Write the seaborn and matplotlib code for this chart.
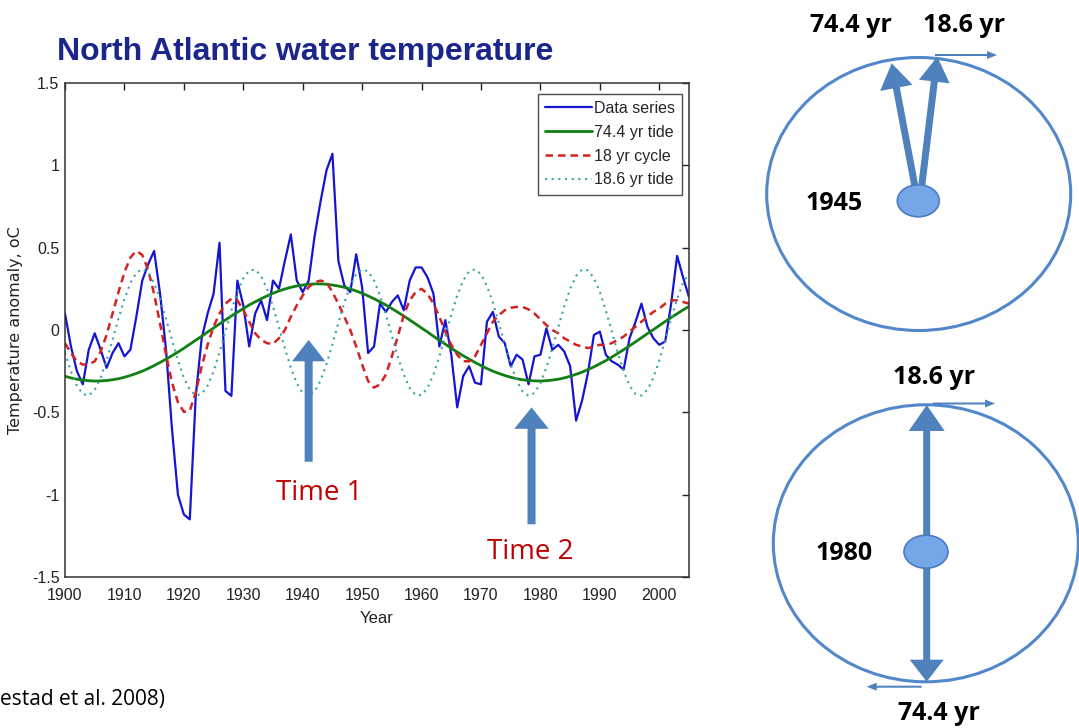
import numpy as np
import matplotlib
matplotlib.use("Agg")
import matplotlib.pyplot as plt
from matplotlib.patches import Ellipse, FancyArrow
import seaborn as sns

# annual values, 1900-2005
years = list(range(1900, 2006))

data_series = [
    0.10, -0.10, -0.25, -0.33, -0.12, -0.02, -0.12, -0.23, -0.14, -0.08,
    -0.16, -0.12, 0.08, 0.30, 0.40, 0.48, 0.22, -0.12, -0.60, -1.00,
    -1.12, -1.15, -0.40, -0.05, 0.10, 0.22, 0.53, -0.37, -0.40, 0.30,
    0.15, -0.10, 0.10, 0.18, 0.06, 0.30, 0.25, 0.42, 0.58, 0.30,
    0.23, 0.30, 0.57, 0.78, 0.97, 1.07, 0.42, 0.27, 0.23, 0.46,
    0.26, -0.14, -0.10, 0.16, 0.11, 0.17, 0.21, 0.12, 0.30, 0.38,
    0.38, 0.32, 0.22, -0.10, 0.06, -0.15, -0.47, -0.28, -0.22, -0.32,
    -0.33, 0.05, 0.11, -0.04, -0.08, -0.22, -0.15, -0.18, -0.33, -0.16,
    -0.15, 0.01, -0.12, -0.09, -0.13, -0.22, -0.55, -0.43, -0.26, -0.03,
    -0.01, -0.15, -0.19, -0.21, -0.24, -0.05, 0.05, 0.16, 0.02, -0.05,
    -0.09, -0.07, 0.16, 0.45, 0.32, 0.20,
]

tide_74 = [
    -0.281, -0.291, -0.299, -0.304, -0.308, -0.310, -0.309, -0.307, -0.302, -0.296,
    -0.287, -0.276, -0.264, -0.250, -0.234, -0.216, -0.197, -0.177, -0.156, -0.134,
    -0.111, -0.086, -0.062, -0.038, -0.012, 0.012, 0.037, 0.061, 0.085, 0.108,
    0.130, 0.152, 0.171, 0.190, 0.207, 0.223, 0.237, 0.249, 0.259, 0.267,
    0.273, 0.278, 0.280, 0.280, 0.278, 0.273, 0.267, 0.259, 0.249, 0.237,
    0.223, 0.207, 0.190, 0.171, 0.152, 0.130, 0.108, 0.085, 0.061, 0.037,
    0.012, -0.012, -0.038, -0.062, -0.086, -0.111, -0.134, -0.156, -0.177, -0.197,
    -0.216, -0.234, -0.250, -0.264, -0.276, -0.287, -0.296, -0.302, -0.307, -0.309,
    -0.310, -0.308, -0.304, -0.299, -0.291, -0.281, -0.269, -0.256, -0.240, -0.224,
    -0.205, -0.186, -0.165, -0.142, -0.120, -0.096, -0.072, -0.047, -0.022, 0.002,
    0.027, 0.052, 0.076, 0.099, 0.122, 0.143,
]

cycle_18 = [
    -0.08, -0.14, -0.19, -0.21, -0.21, -0.19, -0.13, -0.03, 0.10, 0.23,
    0.35, 0.44, 0.48, 0.456, 0.365, 0.218, 0.038, -0.151, -0.318, -0.439,
    -0.497, -0.49, -0.38, -0.22, -0.09, 0.02, 0.10, 0.16, 0.19, 0.18,
    0.12, 0.05, -0.02, -0.06, -0.08, -0.085, -0.05, 0.00, 0.08, 0.15,
    0.21, 0.26, 0.29, 0.30, 0.29, 0.23, 0.16, 0.08, 0.00, -0.10,
    -0.21, -0.31, -0.35, -0.33, -0.27, -0.16, -0.04, 0.09, 0.18, 0.23,
    0.25, 0.22, 0.16, 0.08, -0.01, -0.09, -0.15, -0.19, -0.19, -0.16,
    -0.09, -0.02, 0.05, 0.09, 0.12, 0.135, 0.14, 0.14, 0.125, 0.10,
    0.065, 0.03, 0.00, -0.02, -0.05, -0.07, -0.09, -0.10, -0.11, -0.10,
    -0.09, -0.09, -0.08, -0.06, -0.04, -0.01, 0.02, 0.05, 0.08, 0.11,
    0.13, 0.16, 0.18, 0.18, 0.17, 0.16,
]

tide_186 = [
    -0.137, -0.251, -0.338, -0.389, -0.398, -0.363, -0.290, -0.184, -0.060, 0.069,
    0.188, 0.285, 0.348, 0.370, 0.348, 0.285, 0.188, 0.069, -0.060, -0.184,
    -0.290, -0.363, -0.398, -0.389, -0.338, -0.251, -0.137, -0.008, 0.119, 0.231,
    0.315, 0.362, 0.367, 0.328, 0.250, 0.143, 0.017, -0.111, -0.229, -0.323,
    -0.382, -0.400, -0.374, -0.307, -0.208, -0.086, 0.043, 0.166, 0.268, 0.339,
    0.369, 0.356, 0.301, 0.210, 0.094, -0.035, -0.161, -0.271, -0.352, -0.395,
    -0.395, -0.352, -0.271, -0.161, -0.035, 0.094, 0.210, 0.301, 0.356, 0.369,
    0.339, 0.268, 0.166, 0.043, -0.086, -0.208, -0.307, -0.374, -0.400, -0.382,
    -0.323, -0.229, -0.111, 0.017, 0.143, 0.250, 0.328, 0.367, 0.362, 0.315,
    0.231, 0.119, -0.008, -0.137, -0.251, -0.338, -0.389, -0.398, -0.363, -0.290,
    -0.184, -0.060, 0.069, 0.188, 0.285, 0.348,
]

y_ticks = [-1.5, -1, -0.5, 0, 0.5, 1, 1.5]
y_tick_labels = ["-1.5", "-1", "-0.5", "0", "0.5", "1", "1.5"]
x_ticks = list(range(1900, 2001, 10))

sns.set_style("white")
plt.rcParams['font.family'] = ['Liberation Sans Narrow', 'Liberation Sans', 'DejaVu Sans']

fig = plt.figure(figsize=(10.79, 7.28), dpi=100)
ax = fig.add_axes([65 / 1079, 1 - 577 / 728, 624 / 1079, 494 / 728])

blue = '#1414d2'
green = '#127f12'
red = '#d42222'
cyan = '#3aa5a5'

sns.lineplot(x=years, y=data_series, ax=ax, color=blue, linewidth=1.6, label='Data series')
sns.lineplot(x=years, y=tide_74, ax=ax, color=green, linewidth=2.0, label='74.4 yr tide')
sns.lineplot(x=years, y=cycle_18, ax=ax, color=red, linewidth=1.8,
             linestyle=(0, (3, 2)), label='18 yr cycle')
sns.lineplot(x=years, y=tide_186, ax=ax, color=cyan, linewidth=1.5,
             linestyle=(0, (1, 2.2)), label='18.6 yr tide')

ax.set_xlim(1900, 2005)
ax.set_ylim(-1.5, 1.5)
ax.set_xticks(x_ticks)
ax.set_yticks(y_ticks)
ax.set_yticklabels(y_tick_labels)
ax.tick_params(direction='in', length=5, width=1, top=True, right=True,
               labelsize=11.5, colors='#222222')
ax.tick_params(axis='x', pad=8)
ax.tick_params(axis='y', pad=4)
for sp in ax.spines.values():
    sp.set_color('#333333')
    sp.set_linewidth(1.1)
ax.set_xlabel('Year', fontsize=12, color='#222222', labelpad=6)
ax.set_ylabel('Temperature anomaly, oC', fontsize=11.5, color='#222222',
              family=['DejaVu Sans'], labelpad=6)

leg = ax.legend(loc='upper right', bbox_to_anchor=(0.989, 0.978), borderaxespad=0,
                fontsize=11.5, handlelength=2.9, handletextpad=0.15, labelspacing=0.55,
                borderpad=0.45, frameon=True, fancybox=False)
leg.get_frame().set_edgecolor('#222222')
leg.get_frame().set_linewidth(1.0)

fig.text(57 / 1079, 1 - 52 / 728, 'North Atlantic water temperature', fontsize=23,
         fontweight='bold', color='#1a268c', ha='left', va='center',
         family=['Liberation Sans', 'DejaVu Sans'])

# "Time" arrows inside the chart
arrow_blue = '#4f81bd'
ax.add_patch(FancyArrow(1941, -0.80, 0, 0.74, width=1.35, head_width=5.6, head_length=0.13,
                        length_includes_head=True, color=arrow_blue, zorder=6, lw=0))
ax.add_patch(FancyArrow(1978.5, -1.18, 0, 0.71, width=1.35, head_width=5.8, head_length=0.13,
                        length_includes_head=True, color=arrow_blue, zorder=6, lw=0))
cal = ['Open Sans', 'DejaVu Sans']
ax.text(1942.8, -0.99, 'Time 1', color='#c00000', fontsize=20, ha='center', va='center',
        family=cal, zorder=7)
ax.text(1978.3, -1.35, 'Time 2', color='#c00000', fontsize=20, ha='center', va='center',
        family=cal, zorder=7)

# overlay in pixel coordinates for the clock diagrams
ov = fig.add_axes([0, 0, 1, 1], zorder=5)
ov.set_xlim(0, 1079)
ov.set_ylim(728, 0)
ov.axis('off')
ov.patch.set_alpha(0)

ring = '#5287cc'
ov.add_patch(Ellipse((918.7, 194), 304, 273, fill=False, ec=ring, lw=2.2))
ov.add_patch(Ellipse((925.8, 543.3), 305, 277, fill=False, ec=ring, lw=2.2))

ov.add_patch(FancyArrow(916, 192, -24.3, -128.7, width=7, head_width=33, head_length=25,
                        length_includes_head=True, color=arrow_blue, lw=0))
ov.add_patch(FancyArrow(921, 192, 16.3, -135.3, width=7, head_width=31, head_length=25,
                        length_includes_head=True, color=arrow_blue, lw=0))
ov.add_patch(FancyArrow(935, 55, 62, 0, width=2, head_width=8, head_length=10,
                        length_includes_head=True, color=arrow_blue, lw=0))

ov.add_patch(FancyArrow(926.7, 551, 0, -146, width=7, head_width=36, head_length=26,
                        length_includes_head=True, color=arrow_blue, lw=0))
ov.add_patch(FancyArrow(926.7, 551, 0, 130.7, width=7, head_width=34, head_length=22,
                        length_includes_head=True, color=arrow_blue, lw=0))
ov.add_patch(FancyArrow(933, 403.5, 62, 0, width=2, head_width=8, head_length=10,
                        length_includes_head=True, color=arrow_blue, lw=0))
ov.add_patch(FancyArrow(921.7, 686.7, -55, 0, width=2, head_width=8, head_length=10,
                        length_includes_head=True, color=arrow_blue, lw=0))

ov.add_patch(Ellipse((918.3, 200.8), 42, 32, fc='#74a6e8', ec='#4a7cc0', lw=1.2, zorder=4))
ov.add_patch(Ellipse((926, 551.7), 44, 33, fc='#74a6e8', ec='#4a7cc0', lw=1.2, zorder=4))

lab = dict(fontsize=18, fontweight='bold', color='black', ha='center', va='center', family=cal)
ov.text(851, 25, '74.4 yr', **lab)
ov.text(964, 25, '18.6 yr', **lab)
ov.text(834, 203, '1945', **lab)
ov.text(934, 378, '18.6 yr', **lab)
ov.text(844, 553, '1980', **lab)
ov.text(939, 714, '74.4 yr', **lab)

fig.text(0, 1 - 700 / 728, 'estad et al. 2008)', fontsize=15, color='black', ha='left',
         va='center', family=cal)

fig.savefig('out.png', dpi=100)
